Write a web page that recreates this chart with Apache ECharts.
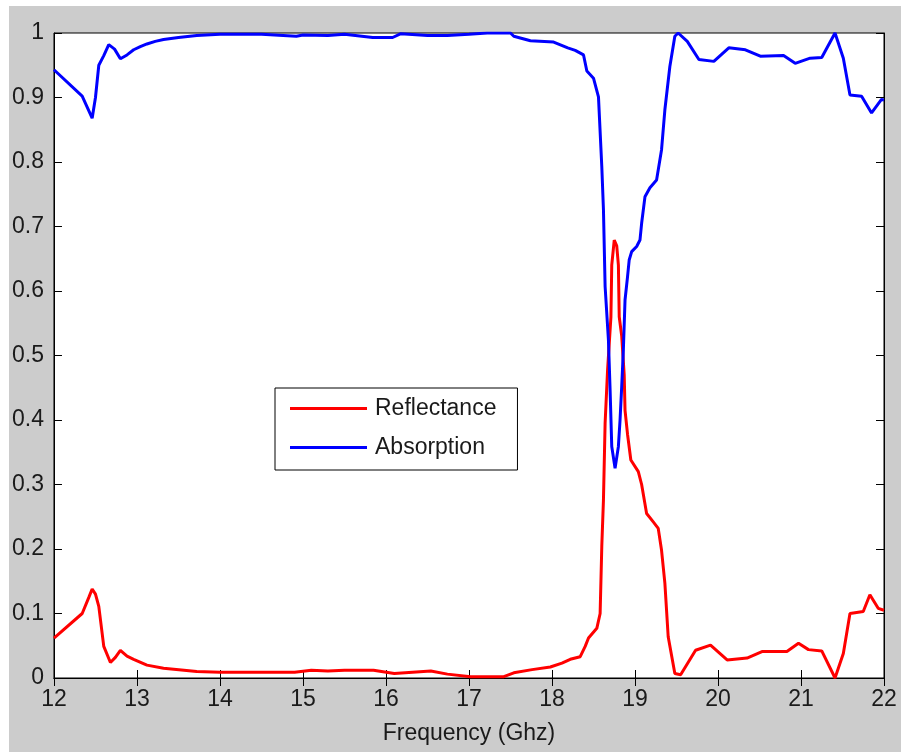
<!DOCTYPE html>
<html>
<head>
<meta charset="utf-8">
<script src="https://cdn.jsdelivr.net/npm/echarts@6/dist/echarts.min.js"></script>
<style>
html,body{margin:0;padding:0;background:#ffffff;}
#chart{position:absolute;left:9px;top:6px;width:892px;height:746px;}
</style>
</head>
<body>
<div id="chart"></div>
<script>
// ---- data ----
const xTicks = [12, 13, 14, 15, 16, 17, 18, 19, 20, 21, 22];
const yTickLabels = ['0', '0.1', '0.2', '0.3', '0.4', '0.5', '0.6', '0.7', '0.8', '0.9', '1'];

const freqR = [12.00, 12.34, 12.42, 12.46, 12.50, 12.54, 12.60, 12.68, 12.74, 12.80, 12.88, 12.96, 13.12, 13.32, 13.72, 14.00,
  14.90, 15.10, 15.30, 15.50, 15.85, 16.10, 16.54, 16.74, 17.02, 17.42, 17.54, 17.76, 17.98, 18.12, 18.22, 18.34, 18.40, 18.44,
  18.54, 18.58, 18.60, 18.62, 18.64, 18.67, 18.71, 18.72, 18.75, 18.78, 18.80, 18.81, 18.84, 18.87, 18.88, 18.91, 18.95, 19.04,
  19.08, 19.14, 19.22, 19.28, 19.32, 19.36, 19.40, 19.48, 19.55, 19.73, 19.91, 20.11, 20.35, 20.53, 20.83, 20.97, 21.09, 21.25,
  21.41, 21.51, 21.59, 21.75, 21.83, 21.93, 22.00];
const reflect = [0.062, 0.100, 0.125, 0.138, 0.130, 0.111, 0.049, 0.024, 0.032, 0.043, 0.034, 0.029, 0.020, 0.015, 0.010, 0.009,
  0.009, 0.012, 0.011, 0.012, 0.012, 0.007, 0.011, 0.006, 0.002, 0.002, 0.008, 0.013, 0.017, 0.023, 0.029, 0.033, 0.049, 0.062,
  0.077, 0.100, 0.204, 0.276, 0.395, 0.478, 0.560, 0.640, 0.679, 0.670, 0.640, 0.560, 0.530, 0.470, 0.415, 0.378, 0.338, 0.320,
  0.300, 0.255, 0.242, 0.232, 0.198, 0.147, 0.064, 0.007, 0.005, 0.043, 0.051, 0.028, 0.031, 0.041, 0.041, 0.054, 0.044, 0.042,
  0.000, 0.038, 0.100, 0.103, 0.129, 0.108, 0.105];

const freqA = [12.00, 12.34, 12.40, 12.46, 12.50, 12.54, 12.60, 12.66, 12.73, 12.80, 12.88, 12.96, 13.04, 13.12, 13.22, 13.32,
  13.50, 13.72, 14.00, 14.50, 14.92, 15.00, 15.30, 15.50, 15.84, 16.08, 16.18, 16.50, 16.74, 17.00, 17.22, 17.50, 17.54, 17.74,
  18.02, 18.19, 18.28, 18.38, 18.42, 18.50, 18.56, 18.60, 18.62, 18.64, 18.68, 18.70, 18.72, 18.76, 18.78, 18.80, 18.82, 18.84,
  18.86, 18.88, 18.91, 18.93, 18.96, 19.02, 19.06, 19.08, 19.12, 19.18, 19.26, 19.32, 19.36, 19.42, 19.48, 19.52, 19.63, 19.77,
  19.95, 20.13, 20.33, 20.51, 20.79, 20.93, 21.11, 21.25, 21.41, 21.51, 21.59, 21.73, 21.85, 21.97, 22.00];
const absorb = [0.943, 0.902, 0.885, 0.868, 0.900, 0.950, 0.965, 0.982, 0.975, 0.960, 0.966, 0.974, 0.979, 0.983, 0.987, 0.990,
  0.993, 0.996, 0.998, 0.998, 0.995, 0.997, 0.996, 0.998, 0.993, 0.993, 0.999, 0.996, 0.996, 0.998, 1.000, 1.000, 0.995, 0.988,
  0.986, 0.977, 0.973, 0.966, 0.941, 0.930, 0.901, 0.793, 0.726, 0.607, 0.524, 0.447, 0.359, 0.325, 0.322, 0.359, 0.400, 0.452,
  0.509, 0.586, 0.622, 0.648, 0.661, 0.669, 0.679, 0.705, 0.746, 0.760, 0.772, 0.819, 0.881, 0.948, 0.995, 1.000, 0.987, 0.959,
  0.956, 0.977, 0.974, 0.964, 0.965, 0.953, 0.961, 0.962, 1.000, 0.961, 0.904, 0.902, 0.876, 0.897, 0.896];

const seriesNames = ['Reflectance', 'Absorption'];

// ---- chart ----
const pair = (xs, ys) => xs.map((x, i) => [x, ys[i]]);
const FONT = 'Liberation Sans';
const TXT = '#1a1a1a';
const FS = 23;
const chart = echarts.init(document.getElementById('chart'), null, {renderer: 'canvas'});

const tickStyle = {show: true, inside: true, length: 8, lineStyle: {color: '#000', width: 1}};
chart.setOption({
  backgroundColor: '#cccccc',
  animation: false,
  textStyle: {fontFamily: FONT},
  grid: {left: 44, top: 27, width: 831, height: 645, show: true, backgroundColor: '#ffffff',
         borderColor: '#000', borderWidth: 1, containLabel: false},
  legend: {
    data: seriesNames.map(n => ({name: n})),
    orient: 'vertical', left: 266, top: 382,
    icon: 'rect', itemWidth: 77, itemHeight: 3, itemGap: 16,
    padding: [9, 21, 11, 15],
    backgroundColor: '#ffffff', borderColor: '#000', borderWidth: 1, borderRadius: 0,
    selectedMode: false,
    textStyle: {fontFamily: FONT, fontSize: FS, color: TXT, padding: [0, 0, 0, 3]}
  },
  xAxis: [{
    type: 'value', min: xTicks[0], max: xTicks[xTicks.length - 1], interval: 1,
    name: 'Frequency (Ghz)', nameLocation: 'middle', nameGap: 44,
    nameTextStyle: {fontFamily: FONT, fontSize: FS, color: TXT},
    axisLine: {show: true, lineStyle: {color: '#000', width: 1}},
    axisTick: tickStyle,
    axisLabel: {fontFamily: FONT, fontSize: FS, color: TXT, margin: 10},
    splitLine: {show: false}
  }, {
    type: 'value', position: 'top', min: xTicks[0], max: xTicks[xTicks.length - 1], interval: 1,
    axisLine: {show: true, lineStyle: {color: '#000', width: 1}},
    axisTick: tickStyle, axisLabel: {show: false}, splitLine: {show: false}
  }],
  yAxis: [{
    type: 'value', min: 0, max: 1, interval: 0.1,
    axisLine: {show: true, lineStyle: {color: '#000', width: 1}},
    axisTick: tickStyle,
    axisLabel: {fontFamily: FONT, fontSize: FS, color: TXT, margin: 10,
      formatter: v => yTickLabels[Math.round(v * 10)]},
    splitLine: {show: false}
  }, {
    type: 'value', position: 'right', min: 0, max: 1, interval: 0.1,
    axisLine: {show: true, lineStyle: {color: '#000', width: 1}},
    axisTick: tickStyle, axisLabel: {show: false}, splitLine: {show: false}
  }],
  series: [{
    name: seriesNames[0], type: 'line', data: pair(freqR, reflect),
    showSymbol: false, symbol: 'none', smooth: false,
    itemStyle: {color: '#ff0000'}, lineStyle: {color: '#ff0000', width: 3}
  }, {
    name: seriesNames[1], type: 'line', data: pair(freqA, absorb),
    showSymbol: false, symbol: 'none', smooth: false,
    itemStyle: {color: '#0000ff'}, lineStyle: {color: '#0000ff', width: 3}
  }]
});
</script>
</body>
</html>
